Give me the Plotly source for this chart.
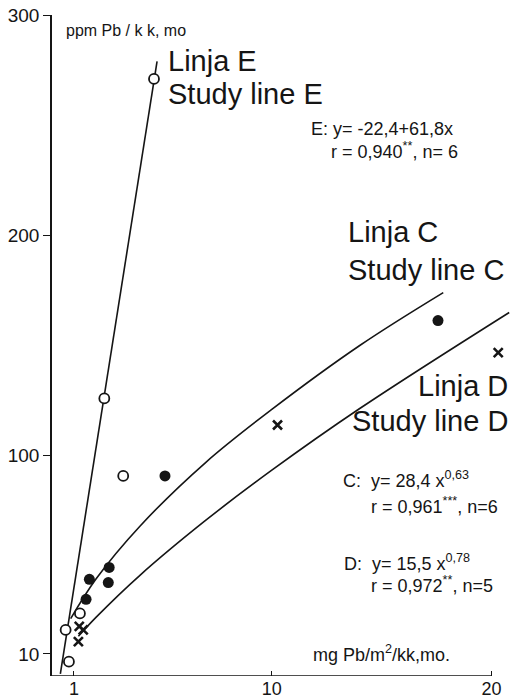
import plotly.graph_objects as go

# ---- data ----
# Study line E (open circles)
e_x = [0.77, 0.62, 1.27, 2.38, 3.24, 4.64]
e_y = [6.5, 20.9, 28.4, 126.0, 90.8, 271.0]
# Study line C (filled circles)
c_x = [1.55, 1.70, 2.56, 2.60, 5.14, 17.56]
c_y = [34.8, 43.9, 42.4, 49.3, 90.8, 161.3]
# Study line D (crosses)
d_x = [1.20, 1.24, 1.42, 10.26, 20.30]
d_y = [15.6, 22.5, 20.9, 113.9, 146.8]

# regression lines
fitE_x = [0.38, 4.78]
fitE_y = [1.0, 279.0]
fitC_x = [0.85, 2.0, 4.0, 7.0, 10.0, 14.0, 17.8]
fitC_y = [26.0, 44.0, 68.0, 97.0, 121.0, 150.0, 174.0]
fitD_x = [1.2, 2.0, 4.0, 7.0, 10.0, 14.0, 20.8]
fitD_y = [18.0, 26.6, 45.7, 70.7, 93.4, 121.4, 165.0]

x_ticks = [1, 10, 20]
y_ticks = [10, 100, 200, 300]

FONT = "Liberation Sans, Arial, sans-serif"
INK = "#151515"
X_MAX = 21.2  # plotting room to the right of the last tick

fig = go.Figure()
line_style = dict(color=INK, width=1.6)
for fx, fy in [(fitE_x, fitE_y), (fitC_x, fitC_y), (fitD_x, fitD_y)]:
    fig.add_trace(go.Scatter(x=fx, y=fy, mode="lines", line=dict(**line_style, shape="spline"),
                             showlegend=False, hoverinfo="skip"))

fig.add_trace(go.Scatter(x=e_x, y=e_y, mode="markers", showlegend=False,
                         marker=dict(symbol="circle", size=10, color="white",
                                     line=dict(color=INK, width=1.8))))
fig.add_trace(go.Scatter(x=c_x, y=c_y, mode="markers", showlegend=False,
                         marker=dict(symbol="circle", size=11, color=INK,
                                     line=dict(color=INK, width=0))))
fig.add_trace(go.Scatter(x=d_x, y=d_y, mode="markers", showlegend=False,
                         marker=dict(symbol="x-thin", size=9, color=INK,
                                     line=dict(color=INK, width=2.6))))

# pixel -> data helpers for placing text
def X(px):
    return (px - 52) / 22.0

def Y(py):
    return (676 - py) / (661 / 300)

def note(text, px, py, size, anchor="left"):
    fig.add_annotation(x=X(px), y=Y(py), xref="x", yref="y", text=text, showarrow=False,
                       xanchor=anchor, yanchor="middle",
                       font=dict(family=FONT, size=size, color=INK))

note("ppm Pb / k k, mo", 64, 30, 16)
note("Linja E", 166, 61, 29)
note("Study line E", 166, 94, 29)
note("E: y= -22,4+61,8x", 309, 129, 18)
note("r = 0,940<sup>**</sup>, n= 6", 329, 150, 18)
note("Linja C", 346, 232, 29)
note("Study line C", 346, 270, 29)
note("Linja D", 510, 386, 29, "right")
note("Study line D", 510, 421, 29, "right")
note("C:  y= 28,4 x<sup>0,63</sup>", 341, 479, 18)
note("r = 0,961<sup>***</sup>, n=6", 369, 505, 18)
note("D:  y= 15,5 x<sup>0,78</sup>", 342, 562, 18)
note("r = 0,972<sup>**</sup>, n=5", 369, 584, 18)
note("mg Pb/m<sup>2</sup>/kk,mo.", 311, 653, 18)

# x axis line stops at the last tick (20)
fig.add_shape(type="line", xref="x", yref="y", x0=0, x1=x_ticks[-1], y0=0, y1=0,
              line=dict(color=INK, width=1.5))

fig.update_xaxes(range=[0, X_MAX], tickvals=x_ticks, ticktext=[str(v) for v in x_ticks],
                 showline=False, showgrid=False, zeroline=False,
                 ticks="inside", ticklen=5, tickwidth=1.3, tickcolor=INK,
                 tickfont=dict(family=FONT, size=18, color=INK), automargin=False)
fig.update_yaxes(range=[0, 300], tickvals=y_ticks, ticktext=[str(v) for v in y_ticks],
                 showline=True, linecolor=INK, linewidth=1.5, showgrid=False, zeroline=False,
                 ticks="outside", ticklen=7, tickwidth=1.3, tickcolor=INK,
                 tickfont=dict(family=FONT, size=19, color=INK), automargin=False)

fig.update_layout(width=520, height=699, margin=dict(l=52, r=520 - 52 - round(22 * X_MAX), t=15, b=23),
                  paper_bgcolor="white", plot_bgcolor="white")

fig.write_html("out.html")
